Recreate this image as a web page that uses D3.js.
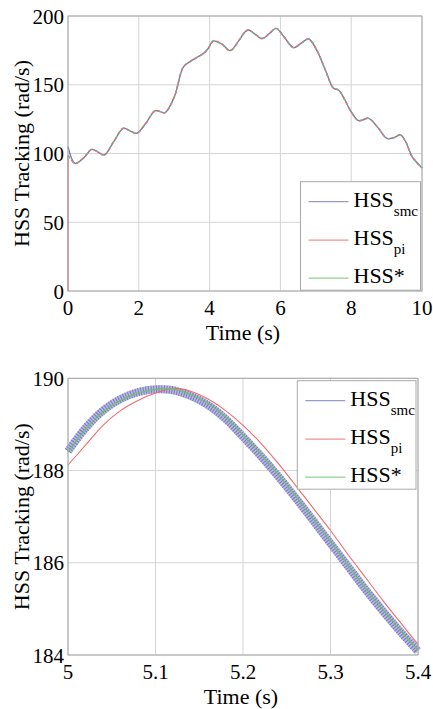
<!DOCTYPE html>
<html>
<head>
<meta charset="utf-8">
<script src="https://cdn.jsdelivr.net/npm/d3@7"></script>
<style>
  svg text, svg tspan { font-family: "Liberation Serif", "Times New Roman", Times, serif !important; }
</style>
</head>
<body style="margin:0">
<div id="chart"></div>
<script>
// top panel: full run 0..10 s (all three series overlap)
const topTime = [0, 0.2, 0.45, 0.67, 0.85, 1.02, 1.3, 1.56, 1.75, 1.94, 2.2, 2.46, 2.6, 2.74, 3.0, 3.26, 3.45, 3.65, 3.83, 3.95, 4.11, 4.35, 4.58, 4.85, 5.0, 5.1, 5.3, 5.48, 5.7, 5.88, 6.1, 6.37, 6.6, 6.8, 7.03, 7.27, 7.5, 7.64, 7.8, 7.97, 8.21, 8.49, 8.75, 9.01, 9.2, 9.39, 9.55, 9.72, 10];
const topRef = [98.9, 92.8, 97, 103, 101, 98.9, 109, 118.3, 116.5, 114.7, 122, 131.2, 130.5, 129.7, 141, 163, 166.8, 170, 172.8, 176, 181.8, 179.5, 174.8, 183, 188.4, 189.8, 186.5, 183.6, 187.5, 191, 185, 177, 180.5, 183.3, 175, 160.7, 147.4, 146.2, 140, 131.6, 123.9, 125.6, 119, 111, 111.5, 113.5, 108, 97.7, 89.5];
// start-up transients at t = 0
const topSmcStart = [[0, 105]];
const topPiStart = [[0, 0]];

// bottom panel: zoom 5.0..5.4 s
const zoomTime = [5.00, 5.02, 5.04, 5.06, 5.08, 5.10, 5.12, 5.14, 5.16, 5.18, 5.20, 5.22, 5.24, 5.26, 5.28, 5.30, 5.32, 5.34, 5.36, 5.38, 5.40];
const zoomRef = [188.40, 188.90, 189.27, 189.52, 189.68, 189.76, 189.77, 189.65, 189.46, 189.16, 188.77, 188.36, 187.92, 187.45, 186.96, 186.46, 185.95, 185.45, 184.98, 184.53, 184.10];
const zoomSmc = [188.42, 188.92, 189.30, 189.55, 189.70, 189.76, 189.74, 189.62, 189.42, 189.12, 188.73, 188.32, 187.88, 187.41, 186.92, 186.42, 185.92, 185.42, 184.95, 184.50, 184.08];
const zoomPi = [188.12, 188.55, 188.98, 189.30, 189.52, 189.68, 189.78, 189.72, 189.55, 189.30, 188.98, 188.60, 188.16, 187.68, 187.19, 186.70, 186.18, 185.68, 185.18, 184.70, 184.23];

const topXTicks = [0, 2, 4, 6, 8, 10];
const topYTicks = [0, 50, 100, 150, 200];
const zoomXTicks = [5, 5.1, 5.2, 5.3, 5.4];
const zoomYTicks = [184, 186, 188, 190];

const colors = { smc: "#7676c6", pi: "#f26a6a", ref: "#6cc06c" };
const FONT = "Liberation Serif";

const svg = d3.select("#chart").append("svg")
  .attr("width", 433)
  .attr("height", 709)
  .attr("font-family", FONT);

function panel(opt) {
  const g = svg.append("g");
  const x = d3.scaleLinear().domain(opt.xDomain).range([opt.left, opt.right]);
  const y = d3.scaleLinear().domain(opt.yDomain).range([opt.bottom, opt.top]);

  // grid
  g.selectAll("line.gx").data(opt.xTicks).join("line")
    .attr("class", "gx")
    .attr("x1", d => x(d)).attr("x2", d => x(d))
    .attr("y1", opt.top).attr("y2", opt.bottom)
    .attr("stroke", "#d4d4d4");
  g.selectAll("line.gy").data(opt.yTicks).join("line")
    .attr("class", "gy")
    .attr("x1", opt.left).attr("x2", opt.right)
    .attr("y1", d => y(d)).attr("y2", d => y(d))
    .attr("stroke", "#d4d4d4");

  // tick labels
  g.selectAll("text.tx").data(opt.xTicks).join("text")
    .attr("class", "tx")
    .attr("x", d => x(d)).attr("y", opt.bottom + 24)
    .attr("text-anchor", "middle")
    .attr("font-family", FONT).attr("font-size", 21)
    .text(d => d);
  g.selectAll("text.ty").data(opt.yTicks).join("text")
    .attr("class", "ty")
    .attr("x", opt.left - 4).attr("y", d => y(d))
    .attr("dy", "0.36em")
    .attr("text-anchor", "end")
    .attr("font-family", FONT).attr("font-size", 21)
    .text(d => d);

  opt.draw(g.append("g"), x, y);

  // axes box
  g.append("rect")
    .attr("x", opt.left).attr("y", opt.top)
    .attr("width", opt.right - opt.left).attr("height", opt.bottom - opt.top)
    .attr("fill", "none").attr("stroke", "#a8a8a8").attr("stroke-width", 1);

  g.append("text")
    .attr("x", (opt.left + opt.right) / 2 - 2)
    .attr("y", opt.bottom + 49)
    .attr("text-anchor", "middle")
    .attr("font-family", FONT).attr("font-size", 22)
    .text("Time (s)");

  g.append("text")
    .attr("transform", `translate(29,${(opt.top + opt.bottom) / 2}) rotate(-90)`)
    .attr("text-anchor", "middle")
    .attr("font-family", FONT).attr("font-size", 22)
    .text("HSS Tracking (rad/s)");

  // legend
  const lg = g.append("g").attr("transform", `translate(${opt.legend[0]},${opt.legend[1]})`);
  lg.append("rect")
    .attr("width", opt.legend[2]).attr("height", 108.5)
    .attr("fill", "#fff").attr("stroke", "#a8a8a8");
  const items = [
    { key: "smc", main: "HSS", sub: "smc", base: 25 },
    { key: "pi", main: "HSS", sub: "pi", base: 63.5 },
    { key: "ref", main: "HSS*", sub: null, base: 101.5 }
  ];
  items.forEach(it => {
    lg.append("line")
      .attr("x1", 8).attr("x2", 48)
      .attr("y1", it.base - 5).attr("y2", it.base - 5)
      .attr("stroke", colors[it.key]).attr("stroke-opacity", 0.75).attr("stroke-width", 1.2);
    const t = lg.append("text").attr("x", 53).attr("y", it.base)
      .attr("font-family", FONT).attr("font-size", 22);
    t.append("tspan").text(it.main);
    if (it.sub) t.append("tspan").attr("dy", 9).attr("font-size", 15).text(it.sub);
  });
}

panel({
  left: 68, right: 422, top: 16, bottom: 291,
  xDomain: [0, 10], yDomain: [0, 200],
  xTicks: topXTicks, yTicks: topYTicks,
  legend: [300.5, 181.7, 120],
  draw: (plot, x, y) => {
    const refPts = topTime.map((t, i) => [t, topRef[i]]);
    const smcPts = topSmcStart.concat(refPts.slice(1));
    const piPts = topPiStart.concat(refPts);
    const line = d3.line().x(d => x(d[0])).y(d => y(d[1])).curve(d3.curveCatmullRom.alpha(0.5));
    plot.append("path").attr("d", line(smcPts))
      .attr("fill", "none").attr("stroke", colors.smc).attr("stroke-width", 1.4);
    plot.append("path").attr("d", d3.line().x(d => x(d[0])).y(d => y(d[1]))(piPts.slice(0, 2)))
      .attr("fill", "none").attr("stroke", colors.pi).attr("stroke-width", 1.2);
    plot.append("path").attr("d", line(refPts))
      .attr("fill", "none").attr("stroke", colors.pi).attr("stroke-width", 1.5)
      .attr("stroke-dasharray", "3,3");
    plot.append("path").attr("d", line(refPts))
      .attr("fill", "none").attr("stroke", colors.ref).attr("stroke-width", 1.5)
      .attr("stroke-dasharray", "2,4").attr("stroke-dashoffset", 4);
  }
});

panel({
  left: 68, right: 418, top: 378.3, bottom: 655,
  xDomain: [5, 5.4], yDomain: [184, 190],
  xTicks: zoomXTicks, yTicks: zoomYTicks,
  legend: [297.3, 380.7, 118.7],
  draw: (plot, x, y) => {
    const line = d3.line().x((d, i) => x(zoomTime[i])).y(d => y(d)).curve(d3.curveCatmullRom.alpha(0.5));
    // SMC: chattering band
    plot.append("path").attr("d", line(zoomSmc))
      .attr("fill", "none").attr("stroke", "#b8b8e2").attr("stroke-width", 8);
    plot.append("path").attr("d", line(zoomSmc))
      .attr("fill", "none").attr("stroke", "#6a6ab8").attr("stroke-width", 8)
      .attr("stroke-dasharray", "1,1.6").attr("stroke-opacity", 0.8);
    plot.append("path").attr("d", line(zoomPi))
      .attr("fill", "none").attr("stroke", colors.pi).attr("stroke-width", 1.1);
    plot.append("path").attr("d", line(zoomRef))
      .attr("fill", "none").attr("stroke", colors.ref).attr("stroke-width", 1.2);
  }
});
</script>
</body>
</html>
